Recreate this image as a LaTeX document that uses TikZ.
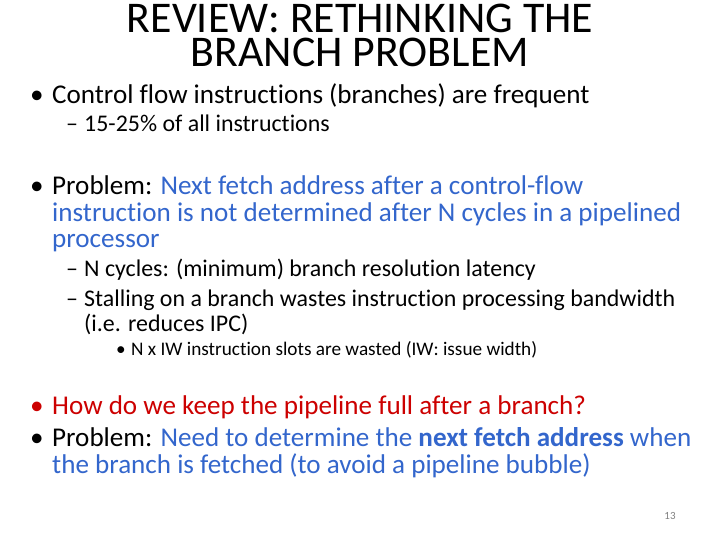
\documentclass[tikz,border=0pt]{standalone}
\usepackage{fontspec}
\setmainfont{Carlito}[Ligatures={NoCommon}]
\definecolor{blu}{RGB}{51,102,204}
\definecolor{rd}{RGB}{204,0,0}
\begin{document}
\begin{tikzpicture}[x=1bp,y=-1bp,
  t/.style={anchor=base west,inner sep=0pt,font=\fontsize{27.2}{30}\selectfont},
  s/.style={anchor=base west,inner sep=0pt,font=\fontsize{24}{27}\selectfont},
  u/.style={anchor=base west,inner sep=0pt,font=\fontsize{19.3}{22}\selectfont},
  h/.style={anchor=base,inner sep=0pt,font=\fontsize{44}{44}\selectfont}]
\useasboundingbox (0,0) rectangle (720,540);
\node[h] (title1) at (360,33) {REVIEW: RETHINKING THE};
\node[h] (title2) at (360,67) {BRANCH PROBLEM};
\node[t] (b1) at (30,104) {•};
\node[t] (l1) at (52,104) {Control flow instructions (branches) are frequent};
\node[s] (d1) at (66,132) {–};
\node[s] (l2) at (84,132) {15-25\% of all instructions};
\node[t] (b2) at (30,195) {•};
\node[t] (l3) at (52,195) {Problem: \textcolor{blu}{Next fetch address after a control-flow}};
\node[t,text=blu] (l4) at (52,222) {instruction is not determined after N cycles in a pipelined};
\node[t,text=blu] (l5) at (52,248) {processor};
\node[s] (d2) at (66,277) {–};
\node[s] (l6) at (84,277) {N cycles: (minimum) branch resolution latency};
\node[s] (d3) at (66,306) {–};
\node[s] (l7) at (84,306) {Stalling on a branch wastes instruction processing bandwidth};
\node[s] (l8) at (84,331) {(i.e. reduces IPC)};
\node[u] (b3) at (116,355) {•};
\node[u] (l9) at (131,355) {N x IW instruction slots are wasted (IW: issue width)};
\node[t,text=rd] (b4) at (30,414) {•};
\node[t,text=rd] (l10) at (52,414) {How do we keep the pipeline full after a branch?};
\node[t] (b5) at (30,446) {•};
\node[t] (l11) at (52,446) {Problem: \textcolor{blu}{Need to determine the \textbf{next fetch address} when}};
\node[t,text=blu] (l12) at (52,473) {the branch is fetched (to avoid a pipeline bubble)};
\node[anchor=base,inner sep=0pt,font=\fontsize{11}{13}\selectfont,text=gray] (pg) at (670,519) {13};
\end{tikzpicture}
\end{document}
